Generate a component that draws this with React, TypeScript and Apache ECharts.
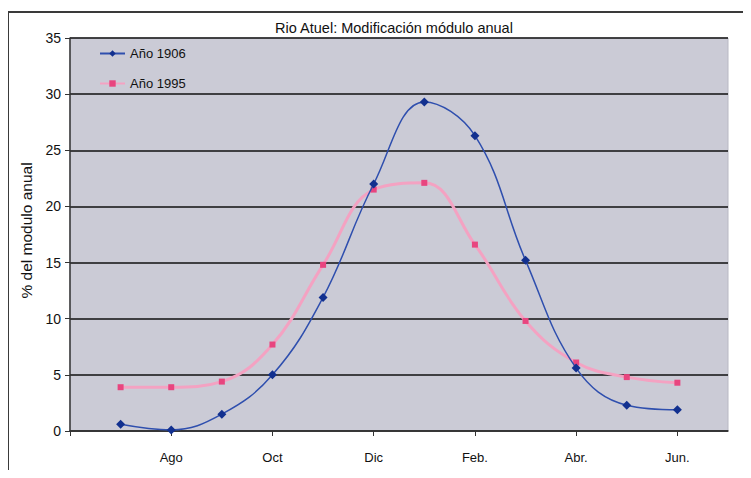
import React, { useEffect, useRef } from "react";
import * as echarts from "echarts";

// Months from July to June (hydrological year)
const months = ["Jul", "Ago", "Sep", "Oct", "Nov", "Dic", "Ene", "Feb.", "Mar", "Abr.", "May", "Jun."];
const year1906 = [0.6, 0.1, 1.5, 5.0, 11.9, 22.0, 29.3, 26.3, 15.2, 5.6, 2.3, 1.9];
const year1995 = [3.9, 3.9, 4.4, 7.7, 14.8, 21.5, 22.1, 16.6, 9.8, 6.1, 4.8, 4.3];
const yTicks = [0, 5, 10, 15, 20, 25, 30, 35];

export default function App() {
  const ref = useRef<HTMLDivElement>(null);

  useEffect(() => {
    if (!ref.current) return;
    const chart = echarts.init(ref.current, null, { renderer: "svg" });
    const font = "Liberation Sans, Arial, sans-serif";
    chart.setOption({
      animation: false,
      backgroundColor: "transparent",
      textStyle: { fontFamily: font },
      title: {
        text: "Rio Atuel: Modificación módulo anual",
        left: 389,
        textAlign: "center",
        top: 15,
        textStyle: { fontSize: 14.5, fontWeight: "normal", color: "#111", fontFamily: font },
      },
      graphic: [
        {
          // left edge of the sheet frame
          type: "line",
          shape: { x1: 8, y1: 12, x2: 8, y2: 520 },
          style: { stroke: "#3a3a3a", lineWidth: 2 },
          silent: true,
        },
      ],
      legend: {
        orient: "vertical",
        left: 94,
        top: 42,
        itemWidth: 25,
        itemHeight: 8,
        itemGap: 17,
        textStyle: { fontSize: 13, color: "#111", fontFamily: font },
        data: ["Año 1906", "Año 1995"],
      },
      grid: {
        left: 70,
        right: 23,
        top: 38,
        bottom: 47,
        show: true,
        backgroundColor: "#cbcbd6",
        borderColor: "#b8b8c4",
        borderWidth: 1,
      },
      xAxis: {
        type: "value",
        min: 0,
        max: 13,
        interval: 2,
        axisLine: { show: true, onZero: false, lineStyle: { color: "#333", width: 1.5 } },
        axisTick: { show: true, length: 5, lineStyle: { color: "#333" } },
        splitLine: { show: false },
        axisLabel: {
          margin: 20,
          fontSize: 13,
          color: "#111",
          formatter: (v: number) => (v > 0 && v <= months.length ? months[v - 1] : ""),
          showMaxLabel: false,
        },
      },
      yAxis: {
        type: "value",
        min: yTicks[0],
        max: yTicks[yTicks.length - 1],
        interval: 5,
        name: "% del modulo anual",
        nameLocation: "middle",
        nameGap: 31,
        nameTextStyle: { fontSize: 15.5, color: "#111", fontFamily: font, padding: [0, 0, 0, 8] },
        axisLine: { show: true, lineStyle: { color: "#333", width: 1.5 } },
        axisTick: { show: true, length: 5, lineStyle: { color: "#333" } },
        axisLabel: { fontSize: 14, color: "#111", margin: 9 },
        splitLine: {
          show: true,
          lineStyle: { color: "#111", width: 1.5 },
        },
      },
      series: [
        {
          name: "Año 1995",
          type: "line",
          smooth: 0.4,
          data: year1995.map((v, i) => [i + 1, v]),
          symbol: "rect",
          symbolSize: 6,
          lineStyle: { color: "#f4a2c2", width: 3 },
          itemStyle: { color: "#e8457f" },
          z: 2,
        },
        {
          name: "Año 1906",
          type: "line",
          smooth: 0.4,
          data: year1906.map((v, i) => [i + 1, v]),
          symbol: "diamond",
          symbolSize: 9,
          lineStyle: { color: "#2f4fae", width: 1.5 },
          itemStyle: { color: "#12308f" },
          z: 3,
        },
      ],
    });
    return () => chart.dispose();
  }, []);

  return (
    <div
      style={{
        position: "relative",
        width: 751,
        height: 478,
        margin: -8,
        overflow: "hidden",
        background: "#ffffff",
      }}
    >
      {/* top edge of the sheet frame, open to the right */}
      <div
        style={{
          position: "absolute",
          left: 7,
          top: 11,
          width: 800,
          height: 500,
          boxSizing: "border-box",
          borderTop: "2px solid #3a3a3a",
        }}
      />
      <div ref={ref} style={{ position: "absolute", left: 0, top: 0, width: 751, height: 478 }} />
    </div>
  );
}
